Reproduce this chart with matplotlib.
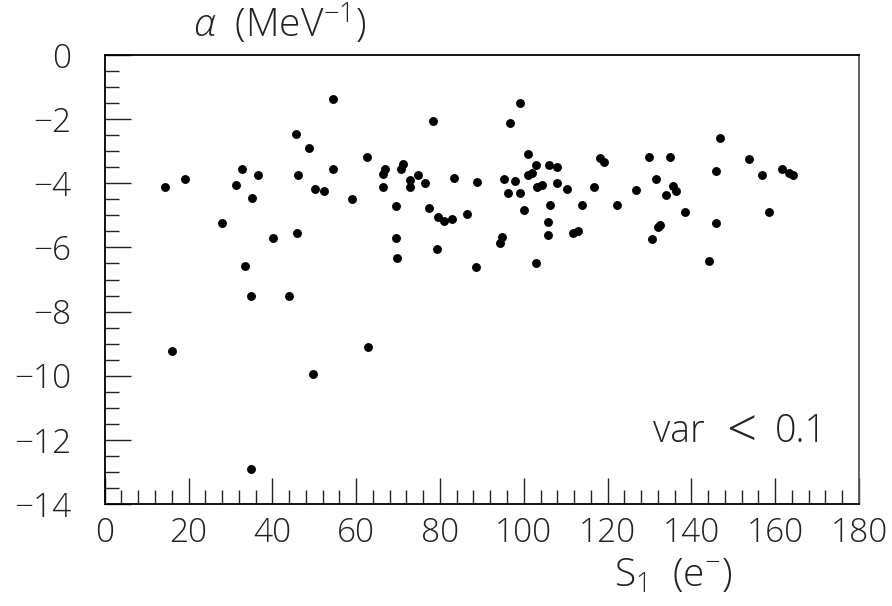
import numpy as np
import matplotlib.pyplot as plt
from matplotlib.ticker import MultipleLocator, FuncFormatter

plt.rcParams['font.family'] = ['Open Sans', 'DejaVu Sans']
plt.rcParams['font.weight'] = 'light'
plt.rcParams['mathtext.fontset'] = 'custom'
plt.rcParams['mathtext.rm'] = 'Open Sans:light'
plt.rcParams['mathtext.it'] = 'Open Sans:italic:light'

# S1 (e-) values
s1 = [14.4, 19.2, 28.1, 31.3, 32.8, 35.1, 36.6, 33.5, 40.2, 45.6,
      46.1, 45.8, 54.5, 48.7, 54.5, 50.3, 52.3, 58.9, 62.7, 66.8,
      66.5, 71.1, 70.7, 66.3, 72.9, 72.9, 74.8, 76.4, 78.3, 83.4,
      88.8, 69.4, 77.4, 79.5, 80.9, 82.8, 86.5, 69.4, 69.8, 79.3,
      88.5, 99.0, 96.8, 101.0, 102.9, 106.0, 108.0, 101.0, 101.9, 95.2,
      97.8, 96.2, 99.0, 103.2, 104.4, 108.0, 110.3, 100.0, 106.3, 114.0,
      116.8, 118.1, 119.1, 122.3, 126.7, 129.9, 135.0, 131.5, 135.6, 136.3,
      134.0, 105.7, 105.7, 111.8, 113.0, 132.1, 132.5, 130.5, 94.9, 94.3,
      102.9, 146.8, 153.8, 145.8, 156.9, 161.7, 163.3, 164.3, 138.5, 158.5,
      145.8, 144.2, 34.8, 44.0, 16.0, 62.8, 49.7, 34.8]

# alpha (MeV^-1) values
alpha = [-4.13, -3.88, -5.25, -4.04, -3.54, -4.46, -3.75, -6.58, -5.71, -2.46,
         -3.75, -5.54, -1.36, -2.89, -3.54, -4.17, -4.25, -4.50, -3.17, -3.54,
         -3.72, -3.41, -3.54, -4.13, -3.90, -4.13, -3.75, -3.98, -2.05, -3.84,
         -3.96, -4.71, -4.77, -5.06, -5.17, -5.12, -4.96, -5.71, -6.33, -6.04,
         -6.60, -1.49, -2.13, -3.09, -3.42, -3.42, -3.50, -3.73, -3.67, -3.88,
         -3.92, -4.29, -4.29, -4.11, -4.06, -3.98, -4.17, -4.83, -4.67, -4.67,
         -4.13, -3.21, -3.34, -4.67, -4.21, -3.19, -3.19, -3.88, -4.08, -4.25,
         -4.38, -5.21, -5.62, -5.54, -5.50, -5.37, -5.29, -5.75, -5.67, -5.87,
         -6.48, -2.59, -3.25, -3.63, -3.75, -3.54, -3.67, -3.75, -4.90, -4.90,
         -5.25, -6.41, -7.51, -7.51, -9.22, -9.11, -9.95, -12.90]

W, H = 892, 606
fig = plt.figure(figsize=(W / 100, H / 100), dpi=100)
ax = fig.add_axes([104.7 / W, 1 - 504 / H, (859 - 104.7) / W, (504 - 55) / H])

ax.plot(s1, alpha, 'o', color='black', ms=6.4, mew=0)

ax.set_xlim(0, 180)
ax.set_ylim(-14, 0)
ax.xaxis.set_major_locator(MultipleLocator(20))
ax.xaxis.set_minor_locator(MultipleLocator(4))
ax.yaxis.set_major_locator(MultipleLocator(2))
ax.yaxis.set_minor_locator(MultipleLocator(0.5))
ax.yaxis.set_major_formatter(FuncFormatter(
    lambda v, p: '0' if abs(v) < 1e-9 else f'\u2212{abs(v):g}'))
ax.tick_params(which='both', direction='in', top=False, right=False,
               labelsize=24, width=1.0, colors='#222222')
ax.tick_params(which='major', length=19)
ax.tick_params(which='minor', length=10)
ax.tick_params(axis='x', pad=9)
ax.tick_params(axis='y', pad=24)
for sp in ax.spines.values():
    sp.set_linewidth(1.3)
ax.spines['right'].set_color('#555555')

fig.text(280 / W, 1 - 24 / H, r'$\alpha$  (MeV$^{-1}$)', fontsize=28,
         ha='center', va='center', color='#222222')
fig.text(732 / W, 1 - 576 / H, r'S$_1$  (e$^{-}$)', fontsize=28,
         ha='right', va='center', color='#222222')

# "var < 0.1" with the wide relation sign of the original
base = 1 - 442 / H
fig.text(705 / W, base, 'var', fontsize=27, ha='right', va='baseline',
         color='#222222')
fig.text(741 / W, 1 - 433 / H, '<', fontsize=38, ha='center', va='center',
         color='#222222')
fig.text(775 / W, base, '0.1', fontsize=27, ha='left', va='baseline',
         color='#222222')

fig.savefig('out.png', dpi=100)
